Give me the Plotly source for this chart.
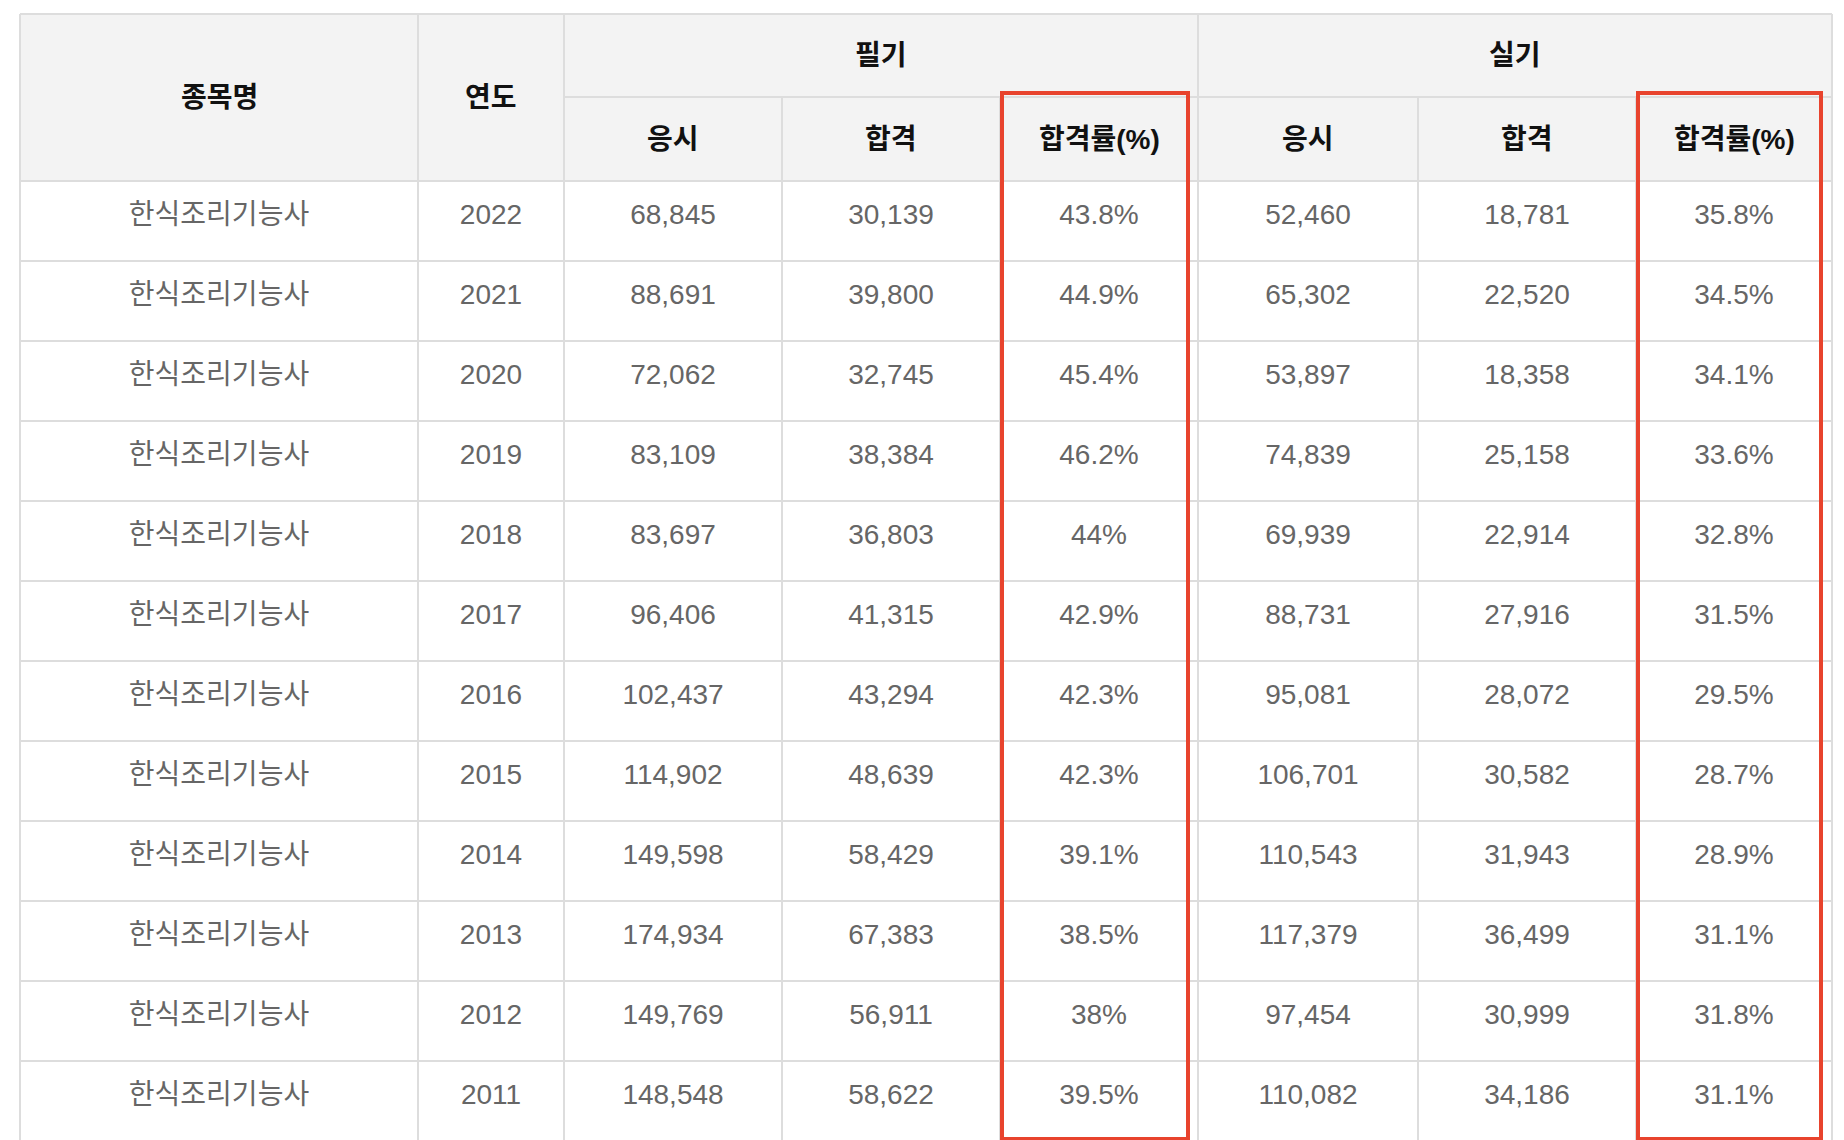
import plotly.graph_objects as go

years = [2022, 2021, 2020, 2019, 2018, 2017, 2016, 2015, 2014, 2013, 2012, 2011]
item = "한식조리기능사"
w_apply = ["68,845", "88,691", "72,062", "83,109", "83,697", "96,406", "102,437", "114,902", "149,598", "174,934", "149,769", "148,548"]
w_pass = ["30,139", "39,800", "32,745", "38,384", "36,803", "41,315", "43,294", "48,639", "58,429", "67,383", "56,911", "58,622"]
w_rate = ["43.8%", "44.9%", "45.4%", "46.2%", "44%", "42.9%", "42.3%", "42.3%", "39.1%", "38.5%", "38%", "39.5%"]
p_apply = ["52,460", "65,302", "53,897", "74,839", "69,939", "88,731", "95,081", "106,701", "110,543", "117,379", "97,454", "110,082"]
p_pass = ["18,781", "22,520", "18,358", "25,158", "22,914", "27,916", "28,072", "30,582", "31,943", "36,499", "30,999", "34,186"]
p_rate = ["35.8%", "34.5%", "34.1%", "33.6%", "32.8%", "31.5%", "29.5%", "28.7%", "28.9%", "31.1%", "31.8%", "31.1%"]

W, H = 1844, 1140
cols = [12, 410, 556, 774, 992, 1190, 1410, 1628, 1824]
top, mid, hbot, rh = 6, 89, 173, 80
grid = "#dddddd"
font = "Liberation Sans, Noto Sans CJK KR, sans-serif"

fig = go.Figure()
shapes = []
# header background
shapes.append(dict(type="rect", x0=cols[0], x1=cols[-1], y0=top, y1=hbot,
                   fillcolor="#f3f3f3", line=dict(width=0), layer="below"))
# horizontal lines
shapes.append(dict(type="line", x0=cols[0], x1=cols[-1], y0=top, y1=top, line=dict(color=grid, width=2)))
shapes.append(dict(type="line", x0=cols[2], x1=cols[-1], y0=mid, y1=mid, line=dict(color=grid, width=2)))
for i in range(len(years) + 1):
    y = hbot + i * rh
    shapes.append(dict(type="line", x0=cols[0], x1=cols[-1], y0=y, y1=y, line=dict(color=grid, width=2)))
# vertical lines
for j, x in enumerate(cols):
    y0 = mid if j in (3, 4, 6, 7) else top
    shapes.append(dict(type="line", x0=x, x1=x, y0=y0, y1=H, line=dict(color=grid, width=2)))
# red highlight boxes
for x0, x1 in [(994, 1180), (1630, 1813)]:
    shapes.append(dict(type="rect", x0=x0, x1=x1, y0=85, y1=1131,
                       line=dict(color="#e8432d", width=4)))

ann = []
def head(x, y, t):
    ann.append(dict(x=x, y=y, text="<b>" + t + "</b>", showarrow=False,
                    font=dict(size=28, color="#111111", family=font)))

head((cols[0] + cols[1]) / 2, (top + hbot) / 2, "종목명")
head((cols[1] + cols[2]) / 2, (top + hbot) / 2, "연도")
head((cols[2] + cols[5]) / 2, (top + mid) / 2, "필기")
head((cols[5] + cols[8]) / 2, (top + mid) / 2, "실기")
for k, t in enumerate(["응시", "합격", "합격률(%)", "응시", "합격", "합격률(%)"]):
    head((cols[k + 2] + cols[k + 3]) / 2, (mid + hbot) / 2, t)

body = [[item] * len(years), [str(y) for y in years], w_apply, w_pass, w_rate, p_apply, p_pass, p_rate]
ys = [hbot + rh * (i + 0.45) for i in range(len(years))]
for j, col in enumerate(body):
    xc = (cols[j] + cols[j + 1]) / 2
    fig.add_trace(go.Scatter(x=[xc] * len(col), y=ys, mode="text", text=col,
                             textfont=dict(size=28, color="#666666", family=font),
                             hoverinfo="skip", showlegend=False))

fig.update_layout(width=W, height=H, margin=dict(l=0, r=0, t=0, b=0),
                  paper_bgcolor="white", plot_bgcolor="white",
                  shapes=shapes, annotations=ann,
                  xaxis=dict(range=[0, W], visible=False, fixedrange=True),
                  yaxis=dict(range=[H, 0], visible=False, fixedrange=True))
fig.write_html("out.html", config={"displayModeBar": False})
